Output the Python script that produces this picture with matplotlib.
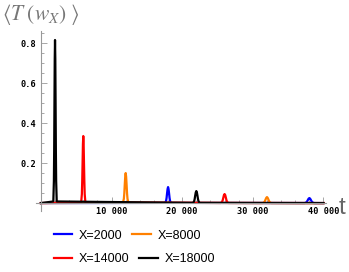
import matplotlib
matplotlib.use("Agg")
import matplotlib.pyplot as plt
from matplotlib.ticker import MultipleLocator, FuncFormatter
from matplotlib.lines import Line2D

plt.rcParams['mathtext.fontset'] = 'stix'

labels = ["X=2000", "X=8000", "X=14000", "X=18000"]
colors = ["#0000ff", "#ff8000", "#ff0000", "#000000"]

# t and <T(w_X)> (peaks at 20000k - X)
t_blue = [0, 17580, 17720, 17790, 17860, 17930, 18000, 18070, 18140, 18210, 18280, 18420,
          37340, 37560, 37670, 37780, 37890, 38000, 38110, 38220, 38330, 38440, 38660, 40000]
y_blue = [0, 0.0009, 0.011, 0.026, 0.049, 0.070, 0.080, 0.070, 0.049, 0.026, 0.011, 0.0009,
          0.0003, 0.0035, 0.008, 0.015, 0.022, 0.025, 0.022, 0.015, 0.008, 0.0035, 0.0003, 0]

t_orange = [0, 11610, 11740, 11805, 11870, 11935, 12000, 12065, 12130, 12195, 12260, 12390,
            31400, 31600, 31700, 31800, 31900, 32000, 32100, 32200, 32300, 32400, 32600, 40000]
y_orange = [0, 0.0015, 0.021, 0.048, 0.092, 0.132, 0.150, 0.132, 0.092, 0.048, 0.021, 0.0015,
            0.0003, 0.004, 0.0096, 0.018, 0.026, 0.030, 0.026, 0.018, 0.0096, 0.004, 0.0003, 0]

t_red = [0, 5700, 5800, 5850, 5900, 5950, 6000, 6050, 6100, 6150, 6200, 6300,
         25460, 25640, 25730, 25820, 25910, 26000, 26090, 26180, 26270, 26360, 26540, 40000]
y_red = [0, 0.003, 0.045, 0.11, 0.20, 0.295, 0.335, 0.295, 0.20, 0.11, 0.045, 0.003,
         0.0005, 0.006, 0.014, 0.027, 0.040, 0.045, 0.040, 0.027, 0.014, 0.006, 0.0005, 0]

t_black = [0, 1760, 1840, 1880, 1920, 1960, 2000, 2040, 2080, 2120, 2160, 2240,
           21520, 21680, 21760, 21840, 21920, 22000, 22080, 22160, 22240, 22320, 22480, 40000]
y_black = [0, 0.008, 0.11, 0.26, 0.50, 0.72, 0.815, 0.72, 0.50, 0.26, 0.11, 0.008,
           0.001, 0.008, 0.019, 0.037, 0.053, 0.060, 0.053, 0.037, 0.019, 0.008, 0.001, 0]

series_t = [t_blue, t_orange, t_red, t_black]
series_y = [y_blue, y_orange, y_red, y_black]

fig = plt.figure(figsize=(3.49, 2.72), dpi=100)
ax = fig.add_axes([0.103, 0.224, 0.83, 0.662])

for t, y, c in zip(series_t, series_y, colors):
    ax.plot(t, y, color=c, lw=1.6, solid_joinstyle='round')

ax.set_xlim(-700, 40300)
ax.set_ylim(-0.04, 0.86)

for s in ['top', 'right']:
    ax.spines[s].set_visible(False)
ax.spines['left'].set_position(('data', 0))
ax.spines['bottom'].set_position(('data', 0))
for s in ['left', 'bottom']:
    ax.spines[s].set_color('#999999')
    ax.spines[s].set_linewidth(0.8)

ax.xaxis.set_major_locator(MultipleLocator(10000))
ax.xaxis.set_minor_locator(MultipleLocator(2000))
ax.yaxis.set_major_locator(MultipleLocator(0.2))
ax.yaxis.set_minor_locator(MultipleLocator(0.05))

def xfmt(v, pos):
    if abs(v) < 1:
        return ""
    s = f"{int(round(v)):,}".replace(",", " ")
    return s

def yfmt(v, pos):
    if abs(v) < 1e-9:
        return ""
    return f"{v:.1f}"

ax.xaxis.set_major_formatter(FuncFormatter(xfmt))
ax.yaxis.set_major_formatter(FuncFormatter(yfmt))
ax.tick_params(which='both', direction='in', color='#999999', width=0.6)
ax.tick_params(which='major', length=4)
ax.tick_params(which='minor', length=2.2)
ax.tick_params(axis='both', labelsize=6.2, pad=3)
for lab in ax.get_xticklabels() + ax.get_yticklabels():
    lab.set_family('DejaVu Sans Mono')
    lab.set_fontweight('bold')

fig.text(0.006, 0.946, r'$\langle T\;(w_X)\;\rangle$', fontsize=15.5, color='#777777',
         ha='left', va='center')
fig.text(0.969, 0.236, 't', fontsize=17.5, color='#666666', ha='left', va='center',
         family='Liberation Sans')

h = [Line2D([0], [0], color=c, lw=1.6) for c in colors]
common = dict(frameon=False, prop={'family': 'Liberation Sans', 'size': 9},
              handlelength=1.5, handletextpad=0.5, columnspacing=0.8, borderpad=0,
              ncol=2, loc='center left')
leg1 = fig.legend(h[:2], labels[:2], bbox_to_anchor=(0.136, 0.134), **common)
leg2 = fig.legend(h[2:], labels[2:], bbox_to_anchor=(0.136, 0.047), **common)

fig.savefig("out.png", dpi=100)
